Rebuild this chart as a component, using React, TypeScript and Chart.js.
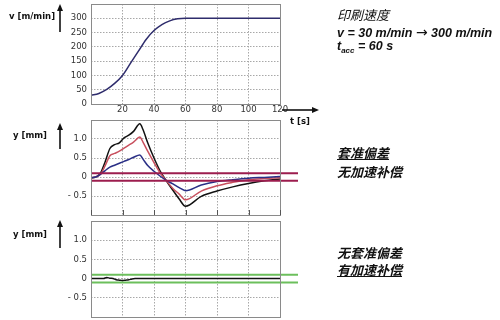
import React, { useEffect, useRef } from "react";
import { Chart, registerables } from "chart.js";

Chart.register(...registerables);

// ---------- data ----------
const speedTime = [0, 5, 10, 15, 20, 25, 30, 35, 40, 45, 50, 55, 60, 90, 120];
const speedValues = [30, 37, 51, 72, 100, 142, 184, 226, 257, 278, 291, 298, 300, 300, 300];

const devTime = [0, 3, 6, 9, 12, 15, 18, 21, 24, 27, 31, 33, 36, 40, 44, 47.5, 52, 56, 60, 70, 80, 90, 100, 110, 120];
const devBlack = [-0.03, 0.0, 0.1, 0.4, 0.75, 0.85, 0.9, 1.03, 1.1, 1.2, 1.4, 1.25, 0.9, 0.5, 0.15, -0.08, -0.35, -0.58, -0.77, -0.51, -0.37, -0.26, -0.17, -0.1, -0.05];
const devRed = [-0.02, 0.0, 0.07, 0.3, 0.56, 0.62, 0.68, 0.76, 0.84, 0.92, 1.05, 0.92, 0.68, 0.38, 0.1, -0.08, -0.3, -0.45, -0.6, -0.37, -0.23, -0.14, -0.07, -0.04, -0.02];
const devBlue = [-0.02, 0.0, 0.07, 0.17, 0.26, 0.31, 0.36, 0.41, 0.46, 0.52, 0.58, 0.47, 0.3, 0.15, 0.02, -0.08, -0.18, -0.28, -0.36, -0.21, -0.12, -0.07, -0.03, -0.01, 0.01];

const compTime = [0, 8, 10, 12, 14, 16, 18, 20, 22, 24, 26, 28, 120];
const compValues = [0, 0, 0.03, 0.01, 0.0, -0.03, -0.04, -0.05, -0.04, -0.03, -0.01, 0, 0];

const toleranceLimits = [0.1, -0.1];

const timeTickLabels = ["", "20", "40", "60", "80", "100", "120"];
const timeTickValues = [0, 20, 40, 60, 80, 100, 120];
const speedTickValues = [0, 50, 100, 150, 200, 250, 300];
const speedTickLabels = ["0", "50", "100", "150", "200", "250", "300"];
const devTickValues = [-0.5, 0, 0.5, 1.0];
const devTickLabels = ["- 0.5", "0", "0.5", "1.0"];

// ---------- styles ----------
const FONT = "'DejaVu Sans', Verdana, sans-serif";
const GRID = "#a8a8a8";
const FRAME = "#8a8a8a";

const framePlugin = {
  id: "frameLines",
  afterDatasetsDraw(chart: any, _args: any, opts: any) {
    const { ctx, chartArea: a, scales } = chart;
    const y = scales.y;
    const x = scales.x;
    ctx.save();
    (opts.lines || []).forEach((l: any) => {
      const py = y.getPixelForValue(l.value);
      ctx.strokeStyle = l.color;
      ctx.lineWidth = l.width;
      ctx.beginPath();
      ctx.moveTo(a.left, py);
      ctx.lineTo(a.right + (l.extend || 0), py);
      ctx.stroke();
    });
    ctx.strokeStyle = FRAME;
    ctx.lineWidth = 1;
    ctx.strokeRect(Math.round(a.left) + 0.5, Math.round(a.top) + 0.5, Math.round(a.right - a.left), Math.round(a.bottom - a.top));
    if (opts.bottomTicks) {
      ctx.strokeStyle = "#555";
      ctx.beginPath();
      x.ticks.forEach((t: any) => {
        const px = Math.round(x.getPixelForValue(t.value)) + 0.5;
        ctx.moveTo(px, a.bottom);
        ctx.lineTo(px, a.bottom - 5);
      });
      ctx.stroke();
    }
    ctx.restore();
  },
};

function pts(xs: number[], ys: number[]) {
  return xs.map((x, i) => ({ x, y: ys[i] }));
}

function lineDs(xs: number[], ys: number[], color: string, width = 1.5) {
  return {
    data: pts(xs, ys),
    borderColor: color,
    borderWidth: width,
    pointRadius: 0,
    fill: false,
    cubicInterpolationMode: "monotone" as const,
  };
}

type Cfg = {
  datasets: any[];
  yMin: number;
  yMax: number;
  yStep: number;
  yTickValues: number[];
  yTickLabels: string[];
  showXLabels: boolean;
  xAxisHeight: number;
  padTop: number;
  padBottom: number;
  lines: any[];
  bottomTicks?: boolean;
};

function makeChart(canvas: HTMLCanvasElement, c: Cfg) {
  return new Chart(canvas, {
    type: "line",
    data: { datasets: c.datasets },
    plugins: [framePlugin],
    options: {
      animation: false,
      responsive: false,
      devicePixelRatio: 1,
      layout: { padding: { left: 0, right: 220, top: c.padTop, bottom: c.padBottom } },
      plugins: {
        legend: { display: false },
        tooltip: { enabled: false },
        frameLines: { lines: c.lines, bottomTicks: !!c.bottomTicks },
      } as any,
      scales: {
        x: {
          type: "linear",
          min: 0,
          max: 120,
          afterFit: (s: any) => {
            s.height = c.xAxisHeight;
            s.paddingLeft = 0;
            s.paddingRight = 0;
            s.paddingTop = 0;
            s.paddingBottom = 0;
          },
          ticks: {
            stepSize: 20,
            display: c.showXLabels,
            padding: 1,
            color: "#333",
            font: { family: FONT, size: 8.5 },
            callback: (v: any) => {
              const i = timeTickValues.indexOf(Number(v));
              return i >= 0 ? timeTickLabels[i] : "";
            },
          },
          grid: { color: GRID, drawTicks: false, lineWidth: 1 },
          border: { display: false, dash: [1.5, 1.5] },
        },
        y: {
          type: "linear",
          min: c.yMin,
          max: c.yMax,
          afterFit: (s: any) => {
            s.width = 91;
            s.paddingTop = 0;
            s.paddingBottom = 0;
            s.paddingLeft = 0;
            s.paddingRight = 0;
          },
          ticks: {
            stepSize: c.yStep,
            padding: 4,
            color: "#333",
            font: { family: FONT, size: 8.5 },
            callback: (v: any) => {
              const i = c.yTickValues.findIndex((t) => Math.abs(t - Number(v)) < 1e-6);
              return i >= 0 ? c.yTickLabels[i] : null;
            },
          },
          grid: { color: GRID, drawTicks: false, lineWidth: 1 },
          border: { display: false, dash: [1.5, 1.5] },
        },
      },
    },
  });
}

const abs = (left: number, top: number, extra: React.CSSProperties = {}): React.CSSProperties => ({
  position: "absolute",
  left,
  top,
  whiteSpace: "nowrap",
  lineHeight: 1,
  color: "#111",
  ...extra,
});

export default function App() {
  const r1 = useRef<HTMLCanvasElement>(null);
  const r2 = useRef<HTMLCanvasElement>(null);
  const r3 = useRef<HTMLCanvasElement>(null);

  useEffect(() => {
    const c1 = makeChart(r1.current!, {
      datasets: [lineDs(speedTime, speedValues, "#2e2c6c", 1.5)],
      yMin: 0,
      yMax: 350,
      yStep: 50,
      yTickValues: speedTickValues,
      yTickLabels: speedTickLabels,
      showXLabels: true,
      xAxisHeight: 18,
      padTop: 4,
      padBottom: 0,
      lines: [],
    });
    const c2 = makeChart(r2.current!, {
      datasets: [
        lineDs(devTime, devBlue, "#2a2f86", 1.5),
        lineDs(devTime, devRed, "#c8505e", 1.5),
        lineDs(devTime, devBlack, "#111111", 1.5),
      ],
      yMin: -1,
      yMax: 1.5,
      yStep: 0.5,
      yTickValues: devTickValues,
      yTickLabels: devTickLabels,
      showXLabels: false,
      xAxisHeight: 0,
      padTop: 4,
      padBottom: 1,
      lines: toleranceLimits.map((v) => ({ value: v, color: "#9c1d4e", width: 2, extend: 18 })),
      bottomTicks: true,
    });
    const c3 = makeChart(r3.current!, {
      datasets: [lineDs(compTime, compValues, "#111111", 1.5)],
      yMin: -1,
      yMax: 1.5,
      yStep: 0.5,
      yTickValues: devTickValues,
      yTickLabels: devTickLabels,
      showXLabels: false,
      xAxisHeight: 0,
      padTop: 5,
      padBottom: 3,
      lines: toleranceLimits.map((v) => ({ value: v, color: "#6cbf5c", width: 2, extend: 18 })),
    });
    return () => {
      c1.destroy();
      c2.destroy();
      c3.destroy();
    };
  }, []);

  const labelStyle: React.CSSProperties = { fontFamily: FONT, fontWeight: 700, fontSize: 8.5 };
  const italicLatin: React.CSSProperties = {
    fontFamily: "'Liberation Sans', Arial, sans-serif",
    fontStyle: "italic",
    fontWeight: 700,
    fontSize: 12.5,
  };
  const cjk: React.CSSProperties = {
    fontFamily: "'Noto Sans CJK SC', sans-serif",
    fontStyle: "italic",
    fontSize: 13,
  };

  return (
    <div style={{ position: "fixed", left: 0, top: 0, width: 500, height: 320, background: "#fff", overflow: "hidden" }}>
      <canvas ref={r1} width={500} height={122} style={{ position: "absolute", left: 0, top: 0 }} />
      <canvas ref={r2} width={500} height={100} style={{ position: "absolute", left: 0, top: 116 }} />
      <canvas ref={r3} width={500} height={104} style={{ position: "absolute", left: 0, top: 216 }} />

      <svg width={500} height={320} style={{ position: "absolute", left: 0, top: 0, pointerEvents: "none" }}>
        <g stroke="#111" strokeWidth={1.6} fill="#111">
          <line x1={60} y1={32} x2={60} y2={9} />
          <polygon points="60,4 57,11 63,11" stroke="none" />
          <line x1={60} y1={149} x2={60} y2={128} />
          <polygon points="60,123 57,130 63,130" stroke="none" />
          <line x1={60} y1={248} x2={60} y2={225} />
          <polygon points="60,220 57,227 63,227" stroke="none" />
          <line x1={282} y1={110} x2={313} y2={110} />
          <polygon points="319,110 312,107 312,113" stroke="none" />
        </g>
      </svg>

      <div style={abs(9, 12, labelStyle)}>v [m/min]</div>
      <div style={abs(13, 131, labelStyle)}>y [mm]</div>
      <div style={abs(13, 230, labelStyle)}>y [mm]</div>
      <div style={abs(290, 117, labelStyle)}>t [s]</div>

      <div style={abs(337, 8, cjk)}>印刷速度</div>
      <div style={abs(337, 25, italicLatin)}>
        v = 30 m/min{" "}
        <span style={{ fontFamily: "'DejaVu Sans', sans-serif", fontWeight: 400, fontStyle: "normal", fontSize: 14 }}>→</span>{" "}
        300 m/min
      </div>
      <div style={abs(337, 40, italicLatin)}>
        t<sub style={{ fontSize: 8, verticalAlign: "-3px" }}>acc</sub> = 60 s
      </div>

      <div style={abs(337, 146, { ...cjk, fontWeight: 700, textDecoration: "underline" })}>套准偏差</div>
      <div style={abs(337, 165, { ...cjk, fontWeight: 700 })}>无加速补偿</div>
      <div style={abs(337, 246, { ...cjk, fontWeight: 700 })}>无套准偏差</div>
      <div style={abs(337, 263, { ...cjk, fontWeight: 700, textDecoration: "underline" })}>有加速补偿</div>
    </div>
  );
}
